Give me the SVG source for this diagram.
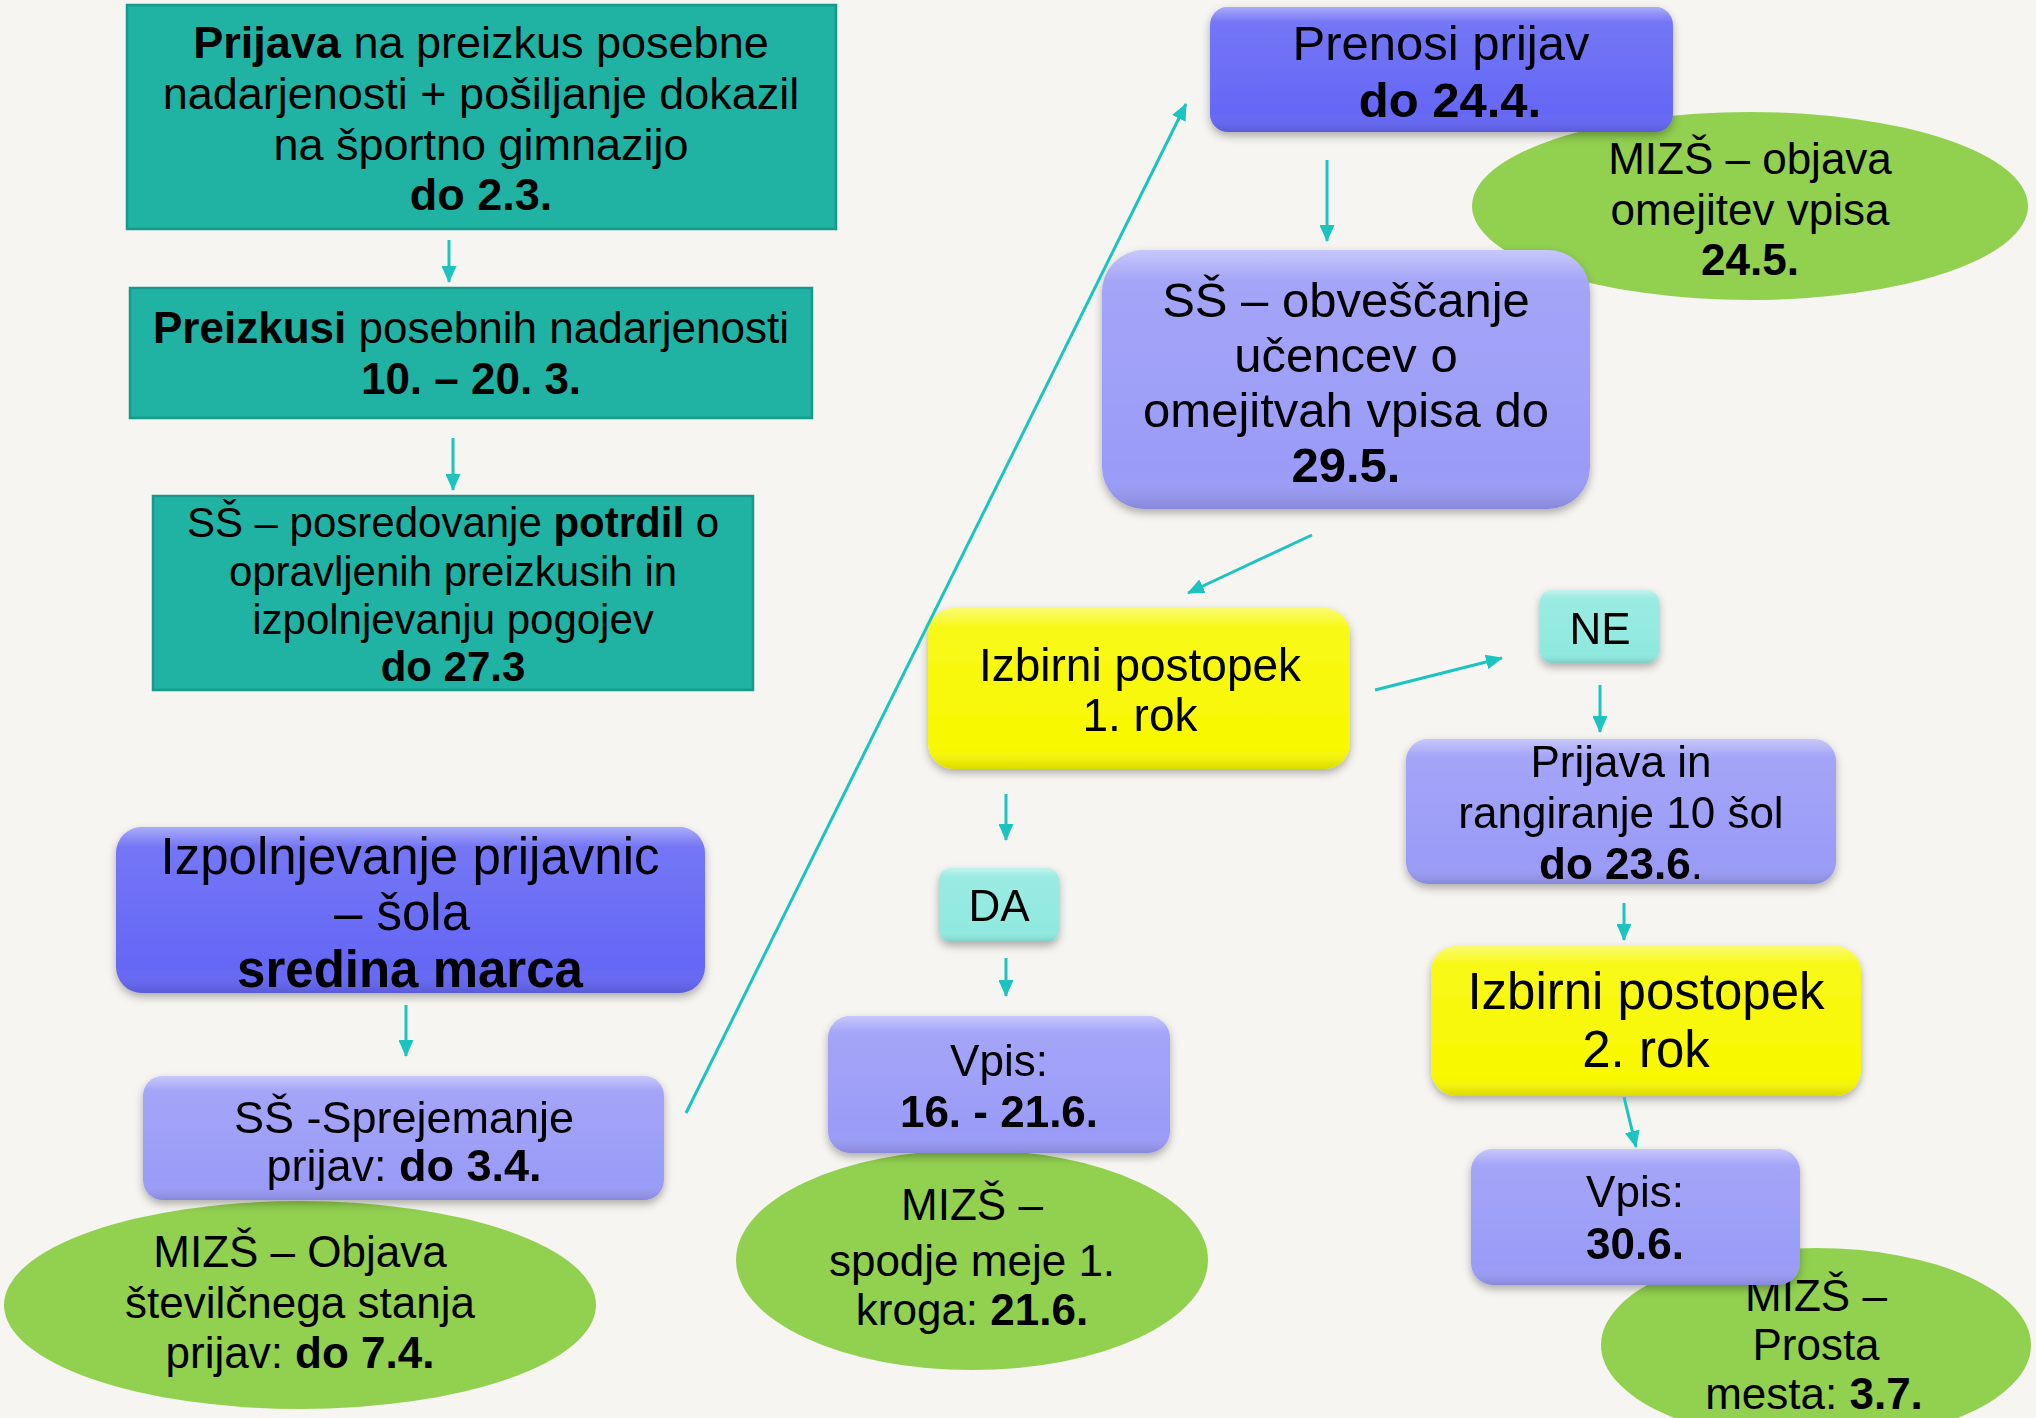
<svg xmlns="http://www.w3.org/2000/svg" width="2036" height="1418" viewBox="0 0 2036 1418">
<defs>
<style>
text{font-family:"Liberation Sans",Arial,sans-serif;fill:#000;text-anchor:middle}
.b{font-weight:bold}
.teal{fill:#20b2a3;stroke:#17998b;stroke-width:2.5}
.dark{fill:#6567f5}
.lav{fill:#9a9bf7}
.yel{fill:#f8f800}
.lt{fill:#8fe9df}
.grn{fill:#92d050}
.con line{stroke:#1cc4c0;stroke-width:3;marker-end:url(#ah)}
</style>
<marker id="ah" viewBox="0 0 17 15" refX="16" refY="7.5" markerWidth="17" markerHeight="15" orient="auto" markerUnits="userSpaceOnUse">
<path d="M0,0 L17,7.5 L0,15 z" fill="#1cc4c0"/>
</marker>
<filter id="sh" x="-10%" y="-10%" width="120%" height="130%">
<feDropShadow dx="0" dy="4" stdDeviation="4" flood-color="#000" flood-opacity="0.3"/>
</filter>
<linearGradient id="gl" x1="0" y1="0" x2="0" y2="1">
<stop offset="0" stop-color="#fff" stop-opacity="0.45"/>
<stop offset="0.12" stop-color="#fff" stop-opacity="0.1"/>
<stop offset="0.85" stop-color="#fff" stop-opacity="0"/>
<stop offset="1" stop-color="#000" stop-opacity="0.12"/>
</linearGradient>
</defs>
<rect width="2036" height="1418" fill="#f7f5f1"/>

<g id="n1">
<rect class="teal" x="127" y="5" width="709" height="224"/>
<text font-size="45"><tspan x="481" y="58"><tspan class="b">Prijava</tspan> na preizkus posebne</tspan><tspan x="481" y="109">nadarjenosti + pošiljanje dokazil</tspan><tspan x="481" y="160">na športno gimnazijo</tspan><tspan x="481" y="210" class="b">do 2.3.</tspan></text>
</g>

<g id="n2">
<rect class="teal" x="130" y="288" width="682" height="130"/>
<text font-size="44"><tspan x="471" y="343"><tspan class="b">Preizkusi</tspan> posebnih nadarjenosti</tspan><tspan x="471" y="394" class="b">10. – 20. 3.</tspan></text>
</g>

<g id="n3">
<rect class="teal" x="153" y="496" width="600" height="194"/>
<text font-size="42"><tspan x="453" y="537">SŠ – posredovanje <tspan class="b">potrdil</tspan> o</tspan><tspan x="453" y="586">opravljenih preizkusih in</tspan><tspan x="453" y="634">izpolnjevanju pogojev</tspan><tspan x="453" y="681" class="b">do 27.3</tspan></text>
</g>

<g id="e1">
<ellipse class="grn" cx="300" cy="1305" rx="296" ry="104"/>
<text font-size="44"><tspan x="300" y="1267">MIZŠ – Objava</tspan><tspan x="300" y="1318">številčnega stanja</tspan><tspan x="300" y="1368">prijav: <tspan class="b">do 7.4.</tspan></tspan></text>
</g>

<g id="n4" filter="url(#sh)">
<rect class="dark" x="116" y="827" width="589" height="166" rx="26"/>
<rect fill="url(#gl)" x="116" y="827" width="589" height="166" rx="26"/>
<text font-size="51"><tspan x="410" y="874">Izpolnjevanje prijavnic</tspan><tspan x="402" y="930">– šola</tspan><tspan x="410" y="987" class="b">sredina marca</tspan></text>
</g>

<g id="n5" filter="url(#sh)">
<rect class="lav" x="143" y="1076" width="521" height="124" rx="20"/>
<rect fill="url(#gl)" x="143" y="1076" width="521" height="124" rx="20"/>
<text font-size="45"><tspan x="404" y="1133">SŠ -Sprejemanje</tspan><tspan x="404" y="1181">prijav: <tspan class="b">do 3.4.</tspan></tspan></text>
</g>

<g id="e2">
<ellipse class="grn" cx="1750" cy="206" rx="278" ry="94"/>
<text font-size="44"><tspan x="1750" y="174">MIZŠ – objava</tspan><tspan x="1750" y="225">omejitev vpisa</tspan><tspan x="1750" y="275" class="b">24.5.</tspan></text>
</g>

<g id="n6" filter="url(#sh)">
<rect class="dark" x="1210" y="7" width="463" height="125" rx="18"/>
<rect fill="url(#gl)" x="1210" y="7" width="463" height="125" rx="18"/>
<text font-size="49"><tspan x="1441" y="60">Prenosi prijav</tspan><tspan x="1450" y="117" class="b">do 24.4.</tspan></text>
</g>

<g id="n7" filter="url(#sh)">
<rect class="lav" x="1102" y="250" width="488" height="259" rx="42"/>
<rect fill="url(#gl)" x="1102" y="250" width="488" height="259" rx="42"/>
<text font-size="49"><tspan x="1346" y="317">SŠ – obveščanje</tspan><tspan x="1346" y="372">učencev o</tspan><tspan x="1346" y="427">omejitvah vpisa do</tspan><tspan x="1346" y="482" class="b">29.5.</tspan></text>
</g>

<g id="n8" filter="url(#sh)">
<rect class="yel" x="928" y="608" width="422" height="161" rx="26"/>
<rect fill="url(#gl)" x="928" y="608" width="422" height="161" rx="26"/>
<text font-size="46"><tspan x="1140" y="681">Izbirni postopek</tspan><tspan x="1140" y="731">1. rok</tspan></text>
</g>

<g id="ne" filter="url(#sh)">
<rect class="lt" x="1540" y="590" width="119" height="73" rx="12"/>
<rect fill="url(#gl)" x="1540" y="590" width="119" height="73" rx="12"/>
<text font-size="44" x="1600" y="644">NE</text>
</g>

<g id="da" filter="url(#sh)">
<rect class="lt" x="939" y="868" width="120" height="74" rx="12"/>
<rect fill="url(#gl)" x="939" y="868" width="120" height="74" rx="12"/>
<text font-size="44" x="999" y="921">DA</text>
</g>

<g id="e3">
<ellipse class="grn" cx="972" cy="1260" rx="236" ry="110"/>
<text font-size="44"><tspan x="972" y="1220">MIZŠ –</tspan><tspan x="972" y="1276">spodje meje 1.</tspan><tspan x="972" y="1325">kroga: <tspan class="b">21.6.</tspan></tspan></text>
</g>

<g id="n9" filter="url(#sh)">
<rect class="lav" x="828" y="1016" width="342" height="137" rx="22"/>
<rect fill="url(#gl)" x="828" y="1016" width="342" height="137" rx="22"/>
<text font-size="44"><tspan x="999" y="1076">Vpis:</tspan><tspan x="999" y="1127" class="b">16. - 21.6.</tspan></text>
</g>

<g id="n10" filter="url(#sh)">
<rect class="lav" x="1406" y="739" width="430" height="145" rx="22"/>
<rect fill="url(#gl)" x="1406" y="739" width="430" height="145" rx="22"/>
<text font-size="44"><tspan x="1621" y="777">Prijava in</tspan><tspan x="1621" y="828">rangiranje 10 šol</tspan><tspan x="1621" y="879"><tspan class="b">do 23.6</tspan>.</tspan></text>
</g>

<g id="n11" filter="url(#sh)">
<rect class="yel" x="1431" y="946" width="430" height="150" rx="26"/>
<rect fill="url(#gl)" x="1431" y="946" width="430" height="150" rx="26"/>
<text font-size="51"><tspan x="1646" y="1009">Izbirni postopek</tspan><tspan x="1646" y="1067">2. rok</tspan></text>
</g>

<g id="e4">
<ellipse class="grn" cx="1816" cy="1345" rx="215" ry="97"/>
<text font-size="44"><tspan x="1816" y="1311">MIZŠ –</tspan><tspan x="1816" y="1360">Prosta</tspan><tspan x="1814" y="1409">mesta: <tspan class="b">3.7.</tspan></tspan></text>
</g>

<g id="n12" filter="url(#sh)">
<rect class="lav" x="1471" y="1149" width="329" height="136" rx="22"/>
<rect fill="url(#gl)" x="1471" y="1149" width="329" height="136" rx="22"/>
<text font-size="44"><tspan x="1635" y="1207">Vpis:</tspan><tspan x="1635" y="1259" class="b">30.6.</tspan></text>
</g>

<g id="connectors" class="con">
<line x1="449" y1="240" x2="449" y2="282"/>
<line x1="453" y1="438" x2="453" y2="490"/>
<line x1="406" y1="1005" x2="406" y2="1056"/>
<line x1="686" y1="1113" x2="1186" y2="104"/>
<line x1="1327" y1="160" x2="1327" y2="241"/>
<line x1="1312" y1="535" x2="1188" y2="593"/>
<line x1="1375" y1="690" x2="1502" y2="658"/>
<line x1="1600" y1="685" x2="1600" y2="732"/>
<line x1="1624" y1="903" x2="1624" y2="940"/>
<line x1="1624" y1="1097" x2="1636" y2="1147"/>
<line x1="1006" y1="794" x2="1006" y2="840"/>
<line x1="1006" y1="958" x2="1006" y2="996"/>
</g>
</svg>
